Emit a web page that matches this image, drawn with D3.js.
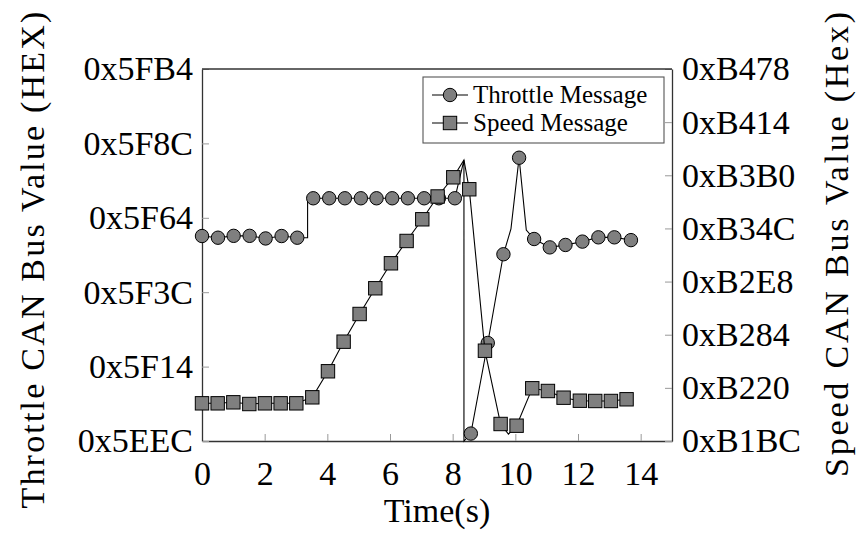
<!DOCTYPE html>
<html>
<head>
<meta charset="utf-8">
<script src="https://cdn.jsdelivr.net/npm/d3@7/dist/d3.min.js"></script>
<style>
  body { margin: 0; background: #fff; }
  text { font-family: "Liberation Serif", "Times New Roman", serif; fill: #000; }
</style>
</head>
<body>
<svg width="864" height="537"></svg>
<script>
// throttle samples (decimal value of the CAN field), mark = 1 where a circle is drawn
var throttleTime  = [0, 0.51, 1.01, 1.52, 2.03, 2.54, 3.04, 3.37, 3.37, 3.55, 4.06, 4.56, 5.07, 5.57, 6.07, 6.57, 7.09, 7.56, 8.07,
                     8.36, 8.36, 8.58, 9.12, 9.62, 9.86, 10.12, 10.35, 10.6, 11.1, 11.6, 12.14, 12.65, 13.16, 13.69];
var throttleValue = [24410.2, 24409.3, 24410.3, 24410.3, 24408.9, 24410.2, 24409.3, 24409.3, 24430.5, 24430.5, 24430.5, 24430.5,
                     24430.5, 24430.5, 24430.5, 24430.5, 24430.5, 24430.5, 24430.5,
                     24451, 24300, 24304, 24352.7, 24400.4, 24414, 24452.3, 24413.4, 24408.6, 24404.1, 24405.4, 24407.2,
                     24409.5, 24409.5, 24408];
var throttleMark  = [1, 1, 1, 1, 1, 1, 1, 0, 0, 1, 1, 1, 1, 1, 1, 1, 1, 1, 1,
                     0, 0, 1, 1, 1, 0, 1, 0, 1, 1, 1, 1, 1, 1, 1];

// speed samples
var speedTime  = [0, 0.5, 1.0, 1.51, 2.01, 2.51, 3.01, 3.52, 4.02, 4.52, 5.03, 5.53, 6.03, 6.53, 7.03, 7.52, 8.02,
                  8.36, 8.53, 9.03, 9.53, 9.78, 10.04, 10.54, 11.04, 11.54, 12.06, 12.55, 13.05, 13.55];
var speedValue = [45570.9, 45570.9, 45572.8, 45569.6, 45570.9, 45570.9, 45570.9, 45582.2, 45631.2, 45686.9, 45739,
                  45787.4, 45834.4, 45876.4, 45917.2, 45960.1, 45996.2,
                  46028.8, 45973.7, 45669.9, 45532, 45513, 45528.8, 45599.2, 45594.1, 45581.5, 45575.8, 45575.3,
                  45575.3, 45578.5];
var speedMark  = [1, 1, 1, 1, 1, 1, 1, 1, 1, 1, 1, 1, 1, 1, 1, 1, 1,
                  0, 1, 1, 1, 0, 1, 1, 1, 1, 1, 1, 1, 1];

var xTicks = [0, 2, 4, 6, 8, 10, 12, 14];
var leftTicks = [24300, 24340, 24380, 24420, 24460, 24500];
var leftTickLabels = ["0x5EEC", "0x5F14", "0x5F3C", "0x5F64", "0x5F8C", "0x5FB4"];
var rightTicks = [45500, 45600, 45700, 45800, 45900, 46000, 46100, 46200];
var rightTickLabels = ["0xB1BC", "0xB220", "0xB284", "0xB2E8", "0xB34C", "0xB3B0", "0xB414", "0xB478"];
var seriesNames = ["Throttle Message", "Speed Message"];

var svg = d3.select("svg"),
    margin = {top: 69, right: 192, bottom: 96, left: 202},
    width = +svg.attr("width") - margin.left - margin.right,
    height = +svg.attr("height") - margin.top - margin.bottom;

var x = d3.scaleLinear().domain([0, 15]).range([0, width]),
    yL = d3.scaleLinear().domain([24300, 24500]).range([height, 0]),
    yR = d3.scaleLinear().domain([45500, 46200]).range([height, 0]);

var g = svg.append("g")
    .attr("transform", "translate(" + margin.left + "," + margin.top + ")");

var fontSize = 34;

// axes, ticks pointing inward like pgfplots
var ax = g.append("g")
    .attr("transform", "translate(0," + height + ")")
    .call(d3.axisBottom(x).tickValues(xTicks).tickSizeInner(-7).tickSizeOuter(0).tickPadding(20));

var al = g.append("g")
    .call(d3.axisLeft(yL).tickValues(leftTicks)
      .tickFormat(function(d, i) { return leftTickLabels[i]; })
      .tickSizeInner(-7).tickSizeOuter(0).tickPadding(9));

var ar = g.append("g")
    .attr("transform", "translate(" + width + ",0)")
    .call(d3.axisRight(yR).tickValues(rightTicks)
      .tickFormat(function(d, i) { return rightTickLabels[i]; })
      .tickSizeInner(-7).tickSizeOuter(0).tickPadding(10));

[ax, al, ar].forEach(function(a) {
  a.select(".domain").attr("stroke", "#333").attr("stroke-width", 1.3);
  a.selectAll(".tick line").attr("stroke", "#999").attr("stroke-width", 1);
  a.selectAll(".tick text").attr("font-size", fontSize).attr("font-family", "Liberation Serif").attr("fill", "#000");
});

g.append("line")
    .attr("x1", 0).attr("x2", width)
    .attr("y1", 0).attr("y2", 0)
    .attr("stroke", "#333").attr("stroke-width", 1.3);

// axis titles
g.append("text")
    .attr("x", width / 2)
    .attr("y", height + 81)
    .attr("text-anchor", "middle")
    .attr("font-size", fontSize)
    .text("Time(s)");

svg.append("text")
    .attr("transform", "translate(44," + (margin.top + height / 2 + 4) + ") rotate(-90)")
    .attr("text-anchor", "middle")
    .attr("font-size", fontSize)
    .attr("letter-spacing", 2.2)
    .text("Throttle CAN Bus Value (HEX)");

svg.append("text")
    .attr("transform", "translate(848," + (margin.top + height / 2 - 12) + ") rotate(-90)")
    .attr("text-anchor", "middle")
    .attr("font-size", fontSize)
    .attr("letter-spacing", 2.8)
    .text("Speed CAN Bus Value (Hex)");

// series
var throttle = throttleTime.map(function(t, i) { return {t: t, v: throttleValue[i], m: throttleMark[i]}; });
var speed = speedTime.map(function(t, i) { return {t: t, v: speedValue[i], m: speedMark[i]}; });

var lineL = d3.line().x(function(d) { return x(d.t); }).y(function(d) { return yL(d.v); });
var lineR = d3.line().x(function(d) { return x(d.t); }).y(function(d) { return yR(d.v); });

var markFill = "#7f7f7f", r = 6.7, side = 13.4;

g.append("path").datum(throttle)
    .attr("fill", "none").attr("stroke", "#000").attr("stroke-width", 1.1)
    .attr("d", lineL);

g.selectAll(".dot")
  .data(throttle.filter(function(d) { return d.m; }))
  .enter().append("circle")
    .attr("class", "dot")
    .attr("cx", function(d) { return x(d.t); })
    .attr("cy", function(d) { return yL(d.v); })
    .attr("r", r)
    .attr("fill", markFill).attr("stroke", "#000").attr("stroke-width", 1);

g.append("path").datum(speed)
    .attr("fill", "none").attr("stroke", "#000").attr("stroke-width", 1.1)
    .attr("d", lineR);

g.selectAll(".sq")
  .data(speed.filter(function(d) { return d.m; }))
  .enter().append("rect")
    .attr("class", "sq")
    .attr("x", function(d) { return x(d.t) - side / 2; })
    .attr("y", function(d) { return yR(d.v) - side / 2; })
    .attr("width", side).attr("height", side)
    .attr("fill", markFill).attr("stroke", "#000").attr("stroke-width", 1);

// legend
var lg = svg.append("g").attr("transform", "translate(423,77)");
lg.append("rect")
    .attr("width", 241).attr("height", 66)
    .attr("fill", "#fff").attr("stroke", "#555").attr("stroke-width", 1.1);

var rows = lg.selectAll(".row")
  .data(seriesNames)
  .enter().append("g")
    .attr("class", "row")
    .attr("transform", function(d, i) { return "translate(0," + (18 + i * 28) + ")"; });

rows.append("line")
    .attr("x1", 9).attr("x2", 45).attr("y1", 0).attr("y2", 0)
    .attr("stroke", "#000").attr("stroke-width", 1.1);

rows.filter(function(d, i) { return i === 0; }).append("circle")
    .attr("cx", 27).attr("cy", 0).attr("r", r)
    .attr("fill", markFill).attr("stroke", "#000");

rows.filter(function(d, i) { return i === 1; }).append("rect")
    .attr("x", 27 - side / 2).attr("y", -side / 2)
    .attr("width", side).attr("height", side)
    .attr("fill", markFill).attr("stroke", "#000");

rows.append("text")
    .attr("x", 50).attr("y", 0).attr("dy", "0.33em")
    .attr("font-size", 25)
    .text(function(d) { return d; });
</script>
</body>
</html>
